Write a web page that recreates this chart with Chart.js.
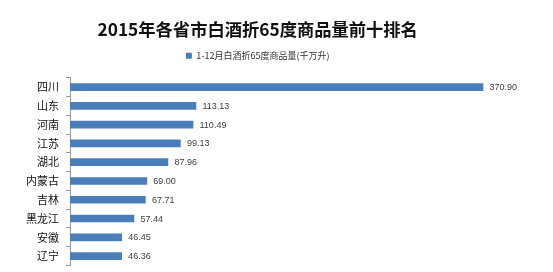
<!DOCTYPE html>
<html>
<head>
<meta charset="utf-8">
<script src="https://cdn.jsdelivr.net/npm/chart.js@4/dist/chart.umd.min.js"></script>
<style>
html,body{margin:0;padding:0;background:#fff;}
#wrap{width:553px;height:272px;position:relative;}
</style>
</head>
<body>
<div id="wrap"><canvas id="c" width="553" height="272"></canvas></div>
<script>
const titleText = '2015年各省市白酒折65度商品量前十排名';
const seriesName = '1-12月白酒折65度商品量(千万升)';
const provinces = ['四川','山东','河南','江苏','湖北','内蒙古','吉林','黑龙江','安徽','辽宁'];
const volumes = [370.90,113.13,110.49,99.13,87.96,69.00,67.71,57.44,46.45,46.36];

const valueLabels = {
  id: 'valueLabels',
  afterDatasetsDraw(chart) {
    const ctx = chart.ctx;
    const meta = chart.getDatasetMeta(0);
    ctx.save();
    ctx.font = '9px "Liberation Sans", Arial, sans-serif';
    ctx.fillStyle = '#404040';
    ctx.textAlign = 'left';
    ctx.textBaseline = 'middle';
    meta.data.forEach((bar, i) => {
      ctx.fillText(volumes[i].toFixed(2), bar.x + 6.5, bar.y + 0.5);
    });
    ctx.restore();
  }
};

new Chart(document.getElementById('c'), {
  type: 'bar',
  data: {
    labels: provinces,
    datasets: [{
      label: seriesName,
      data: volumes,
      backgroundColor: '#4a7ebb',
      borderWidth: 0,
      barThickness: 7
    }]
  },
  options: {
    indexAxis: 'y',
    responsive: false,
    animation: false,
    devicePixelRatio: 1,
    layout: { padding: { top: 4.5, left: 0, right: 37.6, bottom: 6.5 } },
    plugins: {
      title: {
        display: true,
        text: titleText,
        color: '#111',
        font: { family: '"Noto Sans CJK SC", sans-serif', size: 17.3, weight: 'bold' },
        padding: { top: 14.7, bottom: 1.2 }
      },
      legend: {
        display: true,
        position: 'top',
        labels: {
          color: '#333',
          font: { family: '"Noto Sans CJK SC", sans-serif', size: 9 },
          boxWidth: 6,
          boxHeight: 6,
          padding: 10
        }
      },
      tooltip: { enabled: false }
    },
    scales: {
      x: {
        position: 'top',
        min: 0,
        max: 400,
        display: true,
        ticks: { display: false },
        grid: { display: false },
        border: { display: false },
        afterFit(s) { s.height = 7.5; }
      },
      y: {
        afterFit(s) { s.width = 70; s.paddingTop = 0; s.paddingBottom = 0; },
        ticks: {
          color: '#111',
          font: { family: '"Noto Sans CJK SC", sans-serif', size: 11 },
          padding: 7
        },
        grid: {
          drawOnChartArea: false,
          drawTicks: true,
          tickLength: 4,
          color: '#999',
          offset: true
        },
        border: { display: true, color: '#999' }
      }
    }
  },
  plugins: [valueLabels]
});
</script>
</body>
</html>
